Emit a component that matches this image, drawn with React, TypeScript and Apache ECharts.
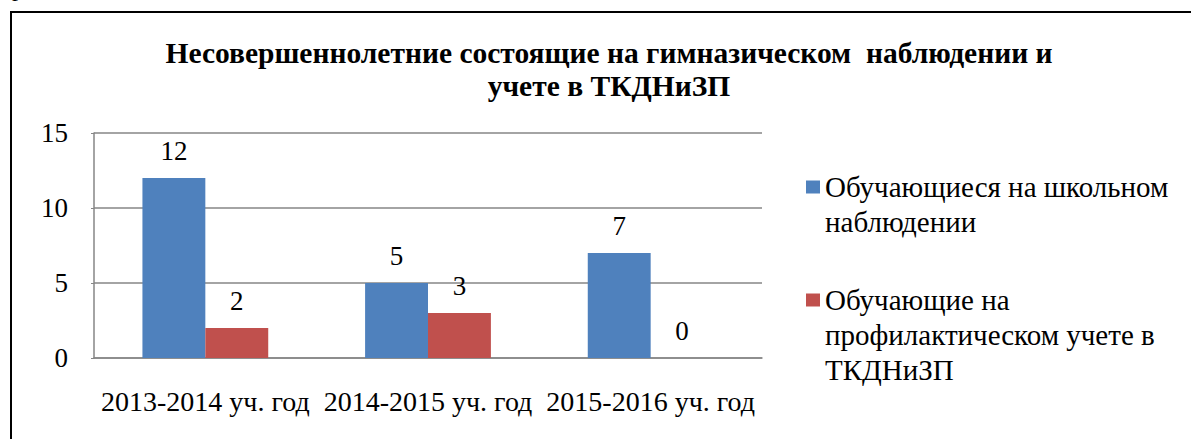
import React, { useEffect, useRef } from "react";
import * as echarts from "echarts";

const categories = ["2013-2014 уч. год", "2014-2015 уч. год", "2015-2016 уч. год"];
const seriesNames = [
  "Обучающиеся на школьном\nнаблюдении",
  "Обучающие на\nпрофилактическом учете в\nТКДНиЗП",
];
const schoolValues = [12, 5, 7];
const commissionValues = [2, 3, 0];
const yTicks = [0, 5, 10, 15];
const titleText = "Несовершеннолетние состоящие на гимназическом  наблюдении и\nучете в ТКДНиЗП";

const FONT = "Liberation Serif";

export default function App() {
  const ref = useRef<HTMLDivElement>(null);
  useEffect(() => {
    document.body.style.margin = "0";
    if (!ref.current) return;
    const chart = echarts.init(ref.current, undefined, { renderer: "svg" });
    const LH = 35;
    const legendBase = {
      orient: "vertical",
      left: 806,
      padding: 0,
      itemWidth: 14,
      itemHeight: 13,
      itemGap: 0,
      icon: "rect",
      selectedMode: false,
      textStyle: { fontSize: 29, fontFamily: FONT, color: "#000", lineHeight: LH },
    };
    const barLabel = {
      show: true,
      position: "top",
      distance: 14,
      fontFamily: FONT,
      fontSize: 27,
      color: "#000",
    };
    chart.setOption({
      animation: false,
      backgroundColor: "#fff",
      textStyle: { fontFamily: FONT, color: "#000" },
      title: {
        text: titleText,
        left: 604,
        top: 31,
        textAlign: "center",
        textStyle: {
          fontFamily: FONT,
          fontWeight: "bold",
          fontSize: 29.5,
          lineHeight: 33,
          color: "#000",
        },
      },
      legend: [
        {
          ...legendBase,
          data: [seriesNames[0]],
          top: 187 - (3 * LH) / 2,
          formatter: (n: string) => "\n" + n,
        },
        {
          ...legendBase,
          data: [seriesNames[1]],
          top: 300 - (5 * LH) / 2,
          formatter: (n: string) => "\n\n" + n,
        },
      ],
      grid: { left: 94, right: 429, top: 133, bottom: 81, containLabel: false },
      xAxis: {
        type: "category",
        data: categories,
        axisLine: { lineStyle: { color: "#868686", width: 1.5 } },
        axisTick: { show: false },
        axisLabel: {
          fontFamily: FONT,
          fontSize: 28,
          color: "#000",
          margin: 29,
          interval: 0,
        },
      },
      yAxis: {
        type: "value",
        min: yTicks[0],
        max: yTicks[yTicks.length - 1],
        interval: 5,
        axisLine: { show: true, lineStyle: { color: "#868686", width: 1.5 } },
        axisTick: { show: true, length: 3, lineStyle: { color: "#868686" } },
        splitLine: { lineStyle: { color: "#868686", width: 1.5 } },
        axisLabel: {
          fontFamily: FONT,
          fontSize: 27,
          color: "#000",
          margin: 26,
        },
      },
      series: [
        {
          name: seriesNames[0],
          type: "bar",
          data: schoolValues,
          barGap: "0%",
          barCategoryGap: "43.5%",
          itemStyle: { color: "#4F81BD" },
          label: barLabel,
        },
        {
          name: seriesNames[1],
          type: "bar",
          data: commissionValues,
          itemStyle: { color: "#C0504D" },
          label: barLabel,
        },
      ],
      graphic: [
        {
          type: "polyline",
          shape: { points: [[11, 439], [11, 12], [1191, 12]] },
          style: { stroke: "#000", lineWidth: 2, fill: "none" },
          silent: true,
        },
        {
          type: "text",
          x: 12,
          y: 0,
          style: { text: "р", fontFamily: FONT, fontSize: 24, fill: "#000", textVerticalAlign: "bottom" },
          silent: true,
        },
      ],
    });
    return () => chart.dispose();
  }, []);
  return <div ref={ref} style={{ width: 1191, height: 439 }} />;
}
